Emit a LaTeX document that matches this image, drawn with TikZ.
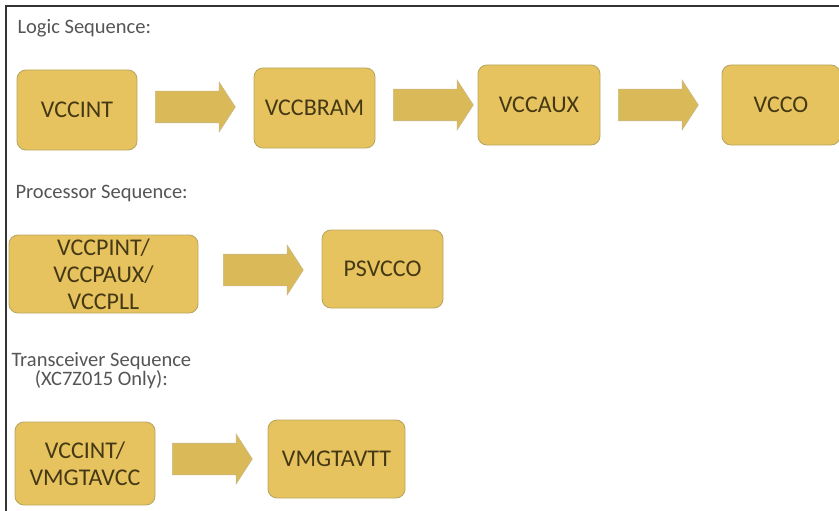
\documentclass[tikz,border=0pt]{standalone}
\usepackage{xcolor}
\usepackage{tikz}
\usepackage{fontspec}
\setmainfont{Carlito}
\usetikzlibrary{arrows.meta,positioning,shapes.arrows}

\definecolor{railgold}{HTML}{E6C35E}
\definecolor{railedge}{HTML}{B9A862}
\definecolor{railtext}{HTML}{453915}
\definecolor{seqtext}{HTML}{555555}

\begin{document}
\begin{tikzpicture}[x=1pt, y=-1pt,
                    rail/.style={draw=railedge, fill=railgold, line width=0.9pt,
                                 rounded corners=9pt, align=center, inner sep=0pt,
                                 text=railtext, font=\fontsize{24}{27}\selectfont},
                    flow/.style={single arrow, draw=railedge!80, fill=railgold!95!black,
                                 line width=0.6pt, minimum height=80pt, minimum width=49pt,
                                 single arrow head extend=9pt, single arrow head indent=0pt,
                                 single arrow tip angle=114, inner sep=15.5pt, anchor=tail},
                    seqlabel/.style={anchor=west, text=seqtext, align=center,
                                     font=\fontsize{20.5}{19}\selectfont}]
    \useasboundingbox (0,0) rectangle (839,511);
    %\draw[help lines, step=50] (0,0) grid (839,511);

   % frame
   \draw[line width=1.4pt, black!80] (839,6) -- (6,6) -- (6,511);

   % Logic sequence
   \node[seqlabel] (logic_lbl) at (14,28) {Logic Sequence:};
   \node[rail, minimum width=120pt, minimum height=80pt] (vccint) at (77,110) {VCCINT};
   \node[rail, minimum width=121pt, minimum height=80pt] (vccbram) at (314.5,108) {VCCBRAM};
   \node[rail, minimum width=122pt, minimum height=80pt] (vccaux) at (539,105) {VCCAUX};
   \node[rail, minimum width=118pt, minimum height=80pt] (vcco) at (781,105) {VCCO};
   \node[flow] (logic_a) at (155,107) {};
   \node[flow] (logic_b) at (393,105) {};
   \node[flow] (logic_c) at (618,105) {};

   % Processor sequence
   \node[seqlabel] (proc_lbl) at (12,193) {Processor Sequence:};
   \node[rail, minimum width=189pt, minimum height=78pt] (vccpint) at (103.5,274)
        {VCCPINT/\\VCCPAUX/\\VCCPLL};
   \node[rail, minimum width=121pt, minimum height=78pt] (psvcco) at (382.5,269) {PSVCCO};
   \node[flow] (proc_a) at (223,270) {};

   % Transceiver sequence
   \node[seqlabel] (gt_lbl) at (8,371)
        {Transceiver Sequence\\(XC7Z015 Only):};
   \node[rail, minimum width=140pt, minimum height=83pt] (vccint_gt) at (85,463.5)
        {VCCINT/\\VMGTAVCC};
   \node[rail, minimum width=137pt, minimum height=78pt] (vmgtavtt) at (336.5,459) {VMGTAVTT};
   \node[flow] (gt_a) at (172,459) {};

\end{tikzpicture}
\end{document}
